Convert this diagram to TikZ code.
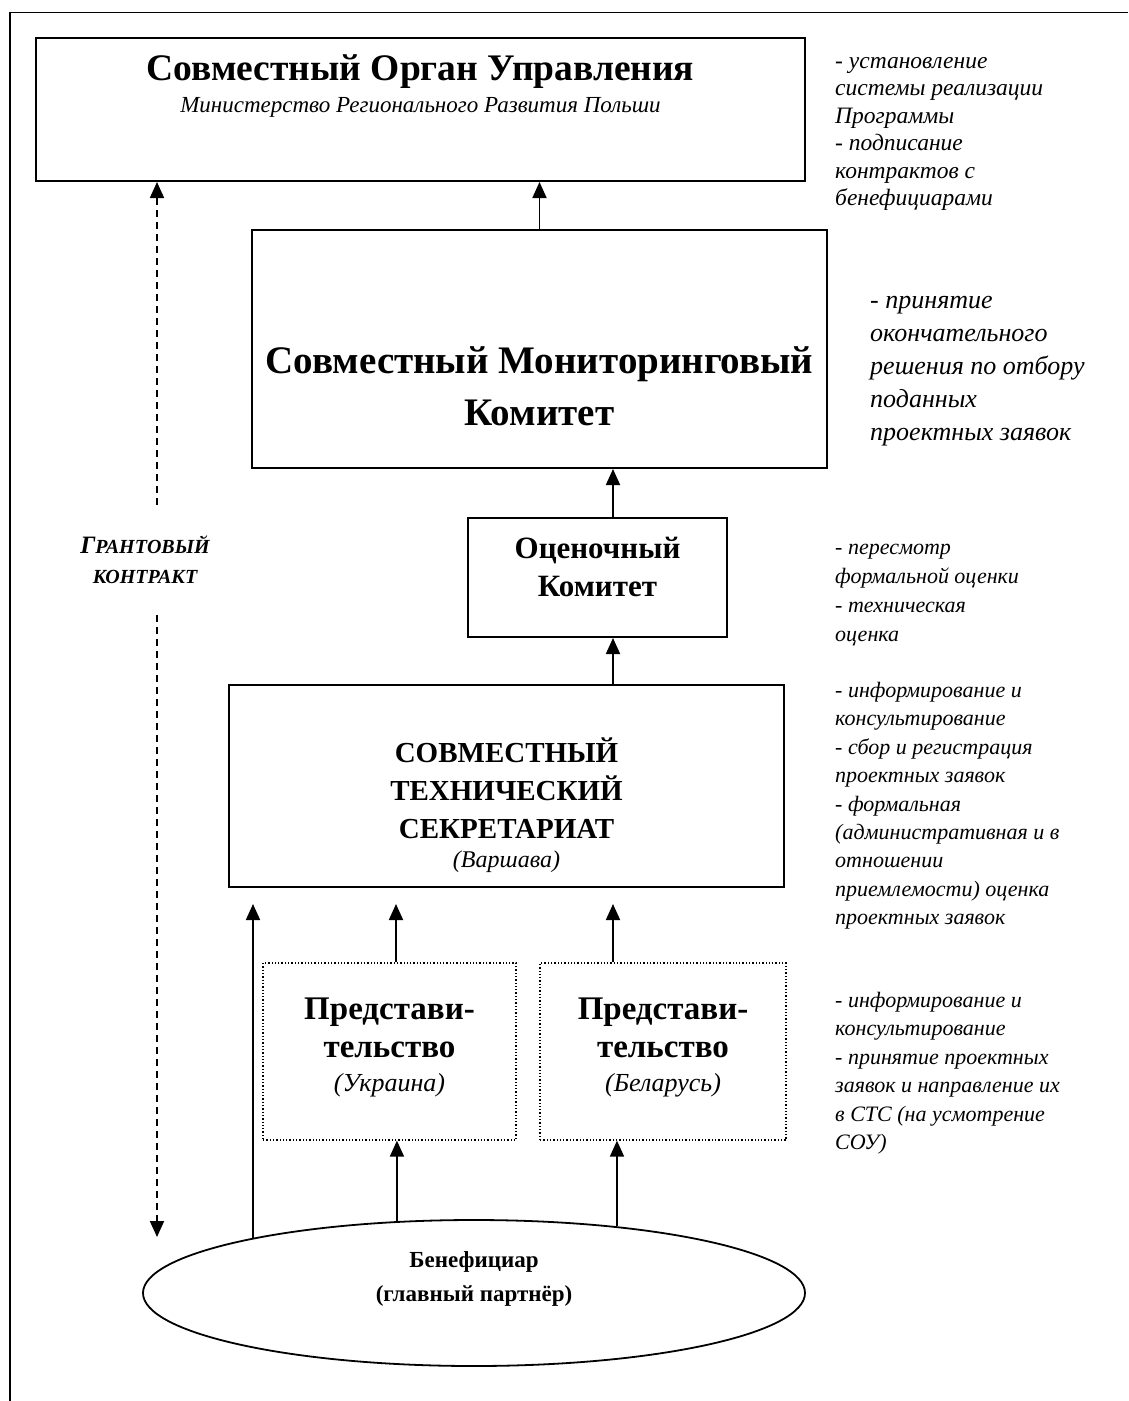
\documentclass[tikz,border=0pt]{standalone}
\usepackage{fontspec}
\setmainfont{Liberation Serif}
\usetikzlibrary{shapes.geometric,arrows.meta}
\begin{document}
\begin{tikzpicture}[x=1pt,y=-1pt,
  box/.style={draw,line width=2pt,inner sep=0pt},
  dbox/.style={draw,dotted,line width=1.3pt,inner sep=0pt},
  arr/.style={-{Triangle[length=16pt,width=14pt]},line width=1.8pt},
  darr/.style={-{Triangle[length=16pt,width=14pt]},line width=1.8pt,dash pattern=on 7pt off 5pt},
  txt/.style={inner sep=0pt,align=center},
  rtext/.style={anchor=north west,align=left,inner sep=0pt,font=\fontsize{22}{28.4}\selectfont\itshape},
  rtexta/.style={anchor=north west,align=left,inner sep=0pt,font=\fontsize{23.5}{27.5}\selectfont\itshape},
  rtextb/.style={anchor=north west,align=left,inner sep=0pt,font=\fontsize{26}{33}\selectfont\itshape}]
\useasboundingbox (0,0) rectangle (1128,1401);
% outer frame
\draw[line width=1.6pt] (10,1401) -- (10,12.5) -- (1128,12.5);

% boxes
\node[box,minimum width=769pt,minimum height=143pt] (b1) at (420.5,109.5) {};
\node[box,minimum width=575pt,minimum height=238pt] (b2) at (539.5,349) {};
\node[box,minimum width=259pt,minimum height=119pt] (b3) at (597.5,577.5) {};
\node[box,minimum width=555pt,minimum height=202pt] (b4) at (506.5,786) {};
\node[dbox,minimum width=253pt,minimum height=177pt] (b5) at (389.5,1051.5) {};
\node[dbox,minimum width=246pt,minimum height=177pt] (b6) at (663,1051.5) {};
\node[draw,line width=1.8pt,ellipse,inner sep=0pt,minimum width=662pt,minimum height=146pt] (ell) at (474,1293) {};

% texts in boxes
\node[txt,font=\fontsize{37.5}{40}\selectfont\bfseries] (t1) at (420.5,72) {Совместный Орган Управления};
\node[txt,font=\fontsize{23}{26}\selectfont\itshape] (t1s) at (420.5,107) {Министерство Регионального Развития Польши};
\node[txt,font=\fontsize{39}{52}\selectfont\bfseries] (t2) at (539.5,386) {Совместный Мониторинговый\\Комитет};
\node[txt,font=\fontsize{31}{38}\selectfont\bfseries] (t3) at (597.5,567) {Оценочный\\Комитет};
\node[txt,font=\fontsize{29}{38}\selectfont\bfseries] (t4) at (506.5,788) {СОВМЕСТНЫЙ\\ТЕХНИЧЕСКИЙ\\СЕКРЕТАРИАТ};
\node[txt,font=\fontsize{24}{26}\selectfont\itshape] (t4s) at (506.5,862) {(Варшава)};
\node[txt,font=\fontsize{33}{38}\selectfont\bfseries] (t5) at (389.5,1028) {Представи-\\тельство};
\node[txt,font=\fontsize{26}{26}\selectfont\itshape] (t5s) at (389.5,1085) {(Украина)};
\node[txt,font=\fontsize{33}{38}\selectfont\bfseries] (t6) at (663,1028) {Представи-\\тельство};
\node[txt,font=\fontsize{26}{26}\selectfont\itshape] (t6s) at (663,1085) {(Беларусь)};
\node[txt,font=\fontsize{23}{34}\selectfont\bfseries] (te) at (474,1279) {Бенефициар\\(главный партнёр)};

% grant contract label
\node[txt,minimum height=110pt,font=\fontsize{20}{30}\selectfont\bfseries\itshape] (gl) at (145,560)
  {{\fontsize{25}{30}\selectfont Г}РАНТОВЫЙ\\КОНТРАКТ};
\coordinate (x157) at (157,0);
\coordinate (gend) at (157,1237);

% right-hand notes
\node[rtexta] (r1) at (835,57) {- установление\\системы реализации\\Программы\\- подписание\\контрактов с\\бенефициарами};
\node[rtextb] (r2) at (870,296) {- принятие\\окончательного\\решения по отбору\\поданных\\проектных заявок};
\node[rtext,font=\fontsize{22}{29}\selectfont\itshape] (r3) at (835,544) {- пересмотр\\формальной оценки\\- техническая\\оценка};
\node[rtext] (r4) at (835,682) {- информирование и\\консультирование\\- сбор и регистрация\\проектных заявок\\- формальная\\(административная и в\\отношении\\приемлемости) оценка\\проектных заявок};
\node[rtext] (r5) at (835,992) {- информирование и\\консультирование\\- принятие проектных\\заявок и направление их\\в СТС (на усмотрение\\СОУ)};

% helper x positions
\coordinate (x253) at (253,0);
\coordinate (x396) at (396,0);
\coordinate (x613) at (613,0);

% connectors
\draw[arr] (b2.north) -- (b2.north |- b1.south);
\draw[arr] (b3.north -| x613) -- (b2.south -| x613);
\draw[arr] (b4.north -| x613) -- (b3.south -| x613);
\draw[arr] (ell.166.3) -- ([yshift=-16pt]b4.south -| x253);
\draw[arr] (b5.north -| x396) -- ([yshift=-16pt]b4.south -| x396);
\draw[arr] (b6.north -| x613) -- ([yshift=-16pt]b4.south -| x613);
\draw[arr] (ell.137.3) -- (b5.south -| ell.137.3);
\draw[arr] (ell.25.5) -- (b6.south -| ell.25.5);
\draw[darr] (gl.north -| x157) -- (b1.south -| x157);
\draw[darr] (gl.south -| x157) -- (gend);
\end{tikzpicture}
\end{document}
